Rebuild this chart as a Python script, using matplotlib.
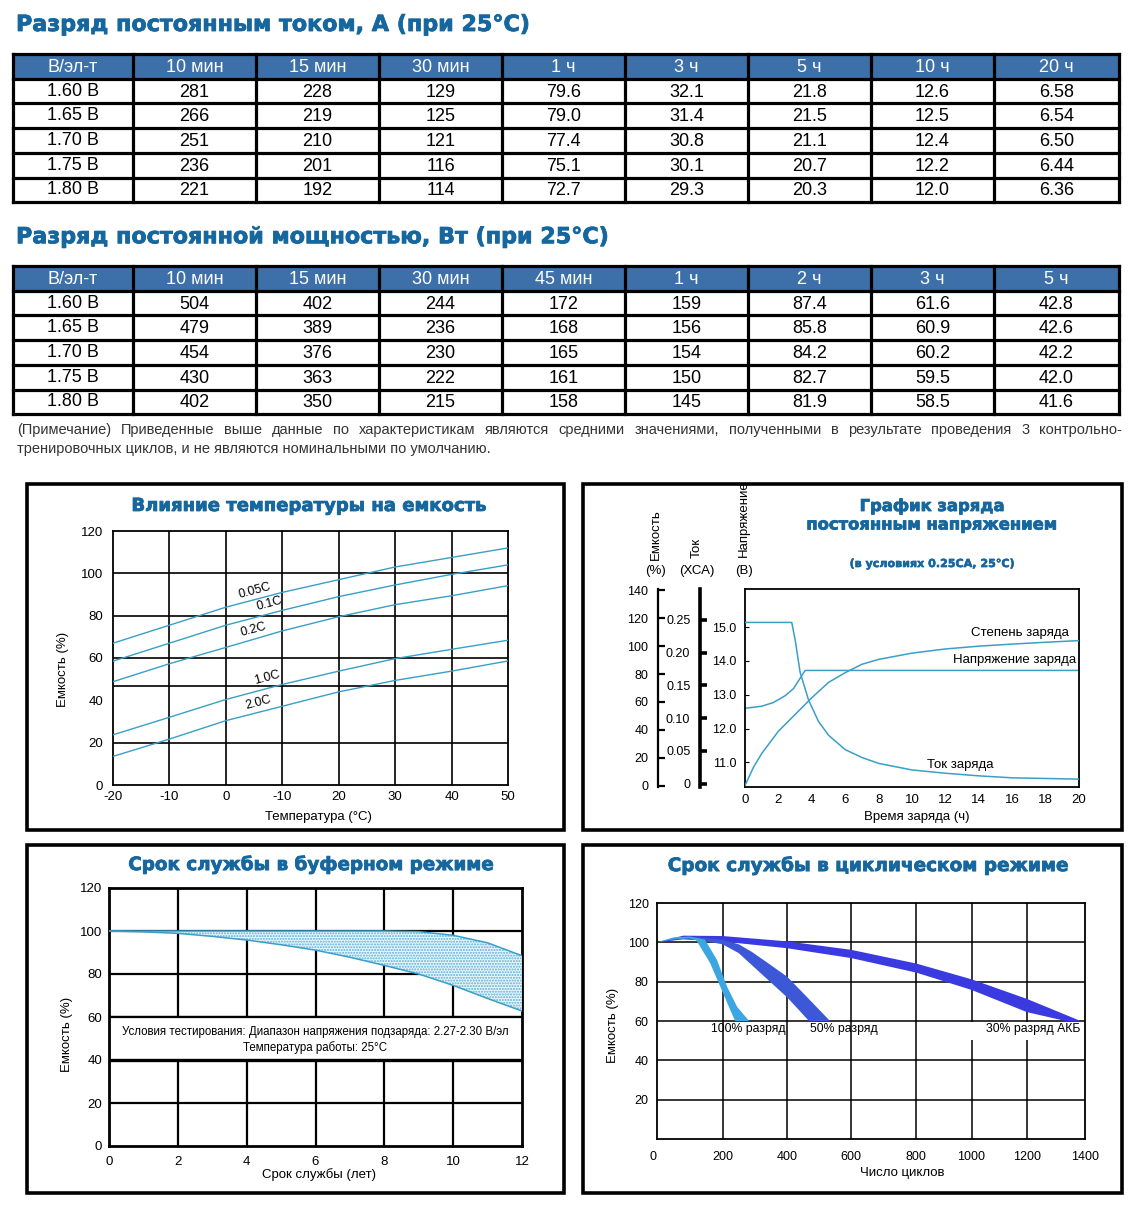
import numpy as np
import matplotlib
matplotlib.use('Agg')
import matplotlib.pyplot as plt
import matplotlib.patheffects as pe
from matplotlib.patches import Rectangle

W, H = 1130, 1213
TITLE_BLUE = '#17679f'
HEAD_FILL = '#3d6fa8'
CURVE = '#3a9fc6'
SANS = ['Liberation Sans', 'DejaVu Sans']
NARROW = ['Liberation Sans Narrow', 'Liberation Sans', 'DejaVu Sans']
HEAVY = ['DejaVu Sans']
BOLDER = [pe.withStroke(linewidth=0.6, foreground=TITLE_BLUE)]

# ---------------- tables ----------------
table1_title = 'Разряд постоянным током, А (при 25°С)'
table1_cols = ['В/эл-т', '10 мин', '15 мин', '30 мин', '1 ч', '3 ч', '5 ч', '10 ч', '20 ч']
table2_title = 'Разряд постоянной мощностью, Вт (при 25°С)'
table2_cols = ['В/эл-т', '10 мин', '15 мин', '30 мин', '45 мин', '1 ч', '2 ч', '3 ч', '5 ч']
end_volts = ['1.60 В', '1.65 В', '1.70 В', '1.75 В', '1.80 В']
current_vals = [
    ['281', '228', '129', '79.6', '32.1', '21.8', '12.6', '6.58'],
    ['266', '219', '125', '79.0', '31.4', '21.5', '12.5', '6.54'],
    ['251', '210', '121', '77.4', '30.8', '21.1', '12.4', '6.50'],
    ['236', '201', '116', '75.1', '30.1', '20.7', '12.2', '6.44'],
    ['221', '192', '114', '72.7', '29.3', '20.3', '12.0', '6.36'],
]
power_vals = [
    ['504', '402', '244', '172', '159', '87.4', '61.6', '42.8'],
    ['479', '389', '236', '168', '156', '85.8', '60.9', '42.6'],
    ['454', '376', '230', '165', '154', '84.2', '60.2', '42.2'],
    ['430', '363', '222', '161', '150', '82.7', '59.5', '42.0'],
    ['402', '350', '215', '158', '145', '81.9', '58.5', '41.6'],
]
note_line1 = ('(Примечание) Приведенные выше данные по характеристикам являются средними '
              'значениями, полученными в результате проведения 3 контрольно-')
note_line2 = 'тренировочных циклов, и не являются номинальными по умолчанию.'

# ---------------- temperature vs capacity ----------------
temp_c = [-20, -10, 0, 10, 20, 30, 40, 50]
cap_005c = [67, 75.5, 84, 91, 97, 103, 107.5, 112]
cap_01c = [58.5, 67, 75.5, 82.5, 89, 94.5, 99.5, 104]
cap_02c = [48.8, 57.3, 65, 72.8, 79.5, 85.2, 89.4, 94.2]
cap_10c = [23.7, 32, 40.4, 47.5, 53.8, 59.7, 64.1, 68.4]
cap_20c = [13.5, 21.7, 30.4, 37.2, 44, 49.4, 53.8, 58.6]
temp_xlabels = ['-20', '-10', '0', '-10', '20', '30', '40', '50']

# ---------------- constant voltage charge ----------------
volt_t = [0, 1, 1.7, 2.4, 2.9, 3.6, 20]
volt_v = [12.6, 12.66, 12.77, 12.97, 13.18, 13.72, 13.72]
curr_t = [0, 2.8, 3.0, 3.3, 3.8, 4.4, 5, 6, 7, 8, 10, 12, 14, 16, 18, 20]
curr_a = [0.246, 0.246, 0.22, 0.17, 0.128, 0.095, 0.074, 0.052, 0.040, 0.031,
          0.021, 0.016, 0.012, 0.009, 0.008, 0.007]
soc_t = [0, 0.5, 1, 2, 3, 4, 5, 6, 7, 8, 10, 12, 14, 16, 18, 20]
soc_pct = [0, 13, 23, 39, 51, 63, 74, 81, 87, 90.5, 95, 98, 100, 101.5, 102.8, 104]

# ---------------- float life ----------------
float_years = [0, 1, 2, 3, 4, 5, 6, 7, 8, 9, 10, 11, 12]
float_upper = [100, 100, 100, 100, 100, 100, 100, 100, 100, 99.7, 98, 94.5, 88.5]
float_lower = [100, 99.6, 98.9, 97.5, 95.8, 93.6, 91.1, 87.8, 84, 80, 74.7, 68.6, 62.8]

# ---------------- cycle life ----------------
cyc_ticks = [0, 200, 400, 600, 800, 1000, 1200, 1400]
cyc_frac = [0, 0.1533, 0.3042, 0.4535, 0.6060, 0.7349, 0.8646, 1.0]  # uneven grid of the original
d30_up_x = [0, 80, 200, 400, 600, 800, 1000, 1200, 1385]
d30_up_y = [100, 103.4, 103.2, 100.5, 96.2, 89.2, 81.2, 71.2, 60]
d30_lo_x = [0, 80, 200, 400, 600, 800, 1000, 1200, 1333]
d30_lo_y = [100, 101.5, 100.4, 97, 92, 84.6, 75.8, 64.5, 60]
d50_up_x = [100, 200, 250, 290, 340, 400, 460, 534]
d50_up_y = [102.8, 101.3, 99, 95.2, 89.5, 82.5, 72.5, 60]
d50_lo_x = [100, 200, 250, 290, 340, 400, 440, 468]
d50_lo_y = [102, 99, 94.5, 88.5, 81, 72, 65, 60]
d100_up_x = [0, 50, 100, 146, 183, 214, 245, 282]
d100_up_y = [100, 102.5, 103, 101.4, 91, 77.4, 67.2, 60]
d100_lo_x = [0, 50, 100, 120, 162, 193, 224, 239]
d100_lo_y = [100, 101.5, 102, 101, 89.4, 77.4, 65.5, 60]

fig = plt.figure(figsize=(W / 100, H / 100), dpi=100)
fig.patch.set_facecolor('white')

ov = fig.add_axes([0, 0, 1, 1])
ov.set_xlim(0, W)
ov.set_ylim(H, 0)
ov.axis('off')


def px_axes(l, t, r, b):
    return fig.add_axes([l / W, 1 - b / H, (r - l) / W, (b - t) / H])


def heading(x, y, s, size, ha='center'):
    ov.text(x, y, s, fontsize=size, fontweight='bold', color=TITLE_BLUE, family=HEAVY,
            ha=ha, va='center', path_effects=BOLDER)


def draw_table(title, title_y, cols, rows, vals, top):
    heading(16, title_y, title, 16, ha='left')
    xs = [13, 133, 256, 379, 502, 625, 748, 871, 994, 1119]
    ys = [top + i * 24.7 for i in range(7)]
    ov.add_patch(Rectangle((xs[0], ys[0]), xs[-1] - xs[0], ys[1] - ys[0],
                           facecolor=HEAD_FILL, edgecolor='none'))
    for x in xs:
        ov.plot([x, x], [ys[0], ys[-1]], color='black', lw=2.3, solid_capstyle='projecting')
    for y in ys:
        ov.plot([xs[0], xs[-1]], [y, y], color='black', lw=2.3, solid_capstyle='projecting')
    for j, c in enumerate(cols):
        ov.text((xs[j] + xs[j + 1]) / 2, (ys[0] + ys[1]) / 2 + 1, c, color='white',
                fontsize=13, family=SANS, ha='center', va='center')
    for i, r in enumerate(rows):
        yc = (ys[i + 1] + ys[i + 2]) / 2 + 1
        ov.text((xs[0] + xs[1]) / 2, yc - 1, r, fontsize=13, family=SANS,
                ha='center', va='center')
        for j, v in enumerate(vals[i]):
            ov.text((xs[j + 1] + xs[j + 2]) / 2, yc, v, fontsize=13, family=SANS,
                    ha='center', va='center')


draw_table(table1_title, 25, table1_cols, end_volts, current_vals, 54)
draw_table(table2_title, 237, table2_cols, end_volts, power_vals, 266)

# justified note, first line
renderer = fig.canvas.get_renderer()
words = note_line1.split(' ')
tmp = [ov.text(0, 0, w, fontsize=10.5, family=NARROW) for w in words]
widths = [t.get_window_extent(renderer).width for t in tmp]
for t in tmp:
    t.remove()
gap = (1122 - 17 - sum(widths)) / (len(words) - 1)
x = 17
for w, wd in zip(words, widths):
    ov.text(x, 430, w, fontsize=10.5, family=NARROW, color='#333333', va='center', ha='left')
    x += wd + gap
ov.text(17, 449, note_line2, fontsize=10.5, family=NARROW, color='#333333', va='center', ha='left')

# panel frames
for (l, t, r, b) in [(27, 484, 564, 830), (583, 484, 1122, 830),
                     (27, 845, 564, 1193), (583, 845, 1122, 1193)]:
    ov.add_patch(Rectangle((l, t), r - l, b - t, facecolor='none', edgecolor='black', lw=2.6))


def style_ticks(ax):
    for lab in ax.get_xticklabels() + ax.get_yticklabels():
        lab.set_family(SANS)


# ---------- panel 1 ----------
ax1 = px_axes(113, 531, 508, 785)
ax1.set_xlim(-20, 50)
ax1.set_ylim(0, 120)
for x in [-10, 0, 10, 20, 30, 40]:
    ax1.axvline(x, color='black', lw=1.2, zorder=1)
for y in [20, 47, 60, 80, 100]:
    ax1.axhline(y, color='black', lw=1.2, zorder=1)
for cap in [cap_005c, cap_01c, cap_02c, cap_10c, cap_20c]:
    ax1.plot(temp_c, cap, color=CURVE, lw=1.0, zorder=3)
for lab, lx, ly in [('0.05C', 5.2, 91.8), ('0.1C', 7.8, 85.8), ('0.2C', 4.9, 73.2),
                    ('1.0C', 7.3, 50.6), ('2.0C', 5.8, 38.8)]:
    ax1.text(lx, ly, lab, fontsize=9, family=SANS, rotation=15, ha='center', va='center', zorder=4)
ax1.set_xticks(temp_c)
ax1.set_xticklabels(temp_xlabels)
ax1.set_yticks(range(0, 121, 20))
ax1.tick_params(length=0, labelsize=9.5)
ax1.tick_params(axis='x', pad=4)
ax1.tick_params(axis='y', pad=7)
for s in ax1.spines.values():
    s.set_linewidth(1.3)
style_ticks(ax1)
heading(308, 506, 'Влияние температуры на емкость', 13)
ov.text(63, 669, 'Емкость (%)', rotation=90, fontsize=9.5, family=SANS, ha='center', va='center')
ov.text(318, 817, 'Температура (°С)', fontsize=9.5, family=SANS, ha='center', va='center')

# ---------- panel 2 ----------
ax2 = px_axes(745, 589, 1079, 787)
ax2.set_xlim(0, 20)
ax2.set_ylim(10.27, 16.13)
ax2.plot(volt_t, volt_v, color=CURVE, lw=1.1)
ax2.set_xticks(range(0, 21, 2))
ax2.set_yticks([11, 12, 13, 14, 15])
ax2.set_yticklabels(['11.0', '12.0', '13.0', '14.0', '15.0'])
ax2.tick_params(axis='x', length=0, pad=5, labelsize=9.5)
ax2.tick_params(axis='y', direction='in', length=3, pad=6, labelsize=9)
for s in ax2.spines.values():
    s.set_linewidth(1.3)
style_ticks(ax2)

axc = ax2.twinx()
axc.set_ylim(-1, 141)
axc.plot(soc_t, soc_pct, color=CURVE, lw=1.1)
axi = ax2.twinx()
axi.set_ylim(-0.005, 0.297)
axi.plot(curr_t, curr_a, color=CURVE, lw=1.1)
for tw, pos, lw, ticks, labels in [
        (axc, (658 - 745) / 334, 1.6, list(range(0, 141, 20)), [str(v) for v in range(0, 141, 20)]),
        (axi, (700 - 745) / 334, 2.6, [0, 0.05, 0.10, 0.15, 0.20, 0.25],
         ['0', '0.05', '0.10', '0.15', '0.20', '0.25'])]:
    for k in ['top', 'right', 'bottom']:
        tw.spines[k].set_visible(False)
    tw.spines['left'].set_visible(True)
    tw.spines['left'].set_position(('axes', pos))
    tw.spines['left'].set_linewidth(lw)
    tw.yaxis.set_ticks_position('left')
    tw.set_yticks(ticks)
    tw.set_yticklabels(labels)
    tw.tick_params(axis='y', direction='in', length=5, width=lw, pad=7, labelsize=9)
    style_ticks(tw)
ax2.set_xlim(0, 20)
ax2.text(16.47, 14.82, 'Степень заряда', fontsize=9.5, family=SANS, ha='center', va='center')
ax2.text(16.15, 14.02, 'Напряжение заряда', fontsize=9.5, family=SANS, ha='center', va='center')
ax2.text(12.9, 10.91, 'Ток заряда', fontsize=9.5, family=SANS, ha='center', va='center')

heading(932, 506, 'График заряда', 11.8)
heading(932, 525, 'постоянным напряжением', 11.8)
ov.text(932, 564, '(в условиях 0.25СА, 25°С)', fontsize=8, fontweight='bold', color=TITLE_BLUE,
        family=HEAVY, ha='center', va='center',
        path_effects=[pe.withStroke(linewidth=0.4, foreground=TITLE_BLUE)])
for xc, vert, unit, vy in [(656, 'Емкость', '(%)', 535), (697, 'Ток', '(ХСА)', 548),
                           (744, 'Напряжение', '(В)', 519)]:
    ov.text(xc, vy, vert, rotation=90, fontsize=9.5, family=SANS, ha='center', va='center')
    ov.text(xc, 571, unit, fontsize=9.5, family=SANS, ha='center', va='center')
ov.text(917, 817, 'Время заряда (ч)', fontsize=9.5, family=SANS, ha='center', va='center')

# ---------- panel 3 ----------
ax3 = px_axes(109, 888, 522, 1146)
ax3.set_xlim(0, 12)
ax3.set_ylim(0, 120)
for x in range(2, 12, 2):
    ax3.axvline(x, color='black', lw=1.6, zorder=1)
for y in [20, 60, 80, 100]:
    ax3.axhline(y, color='black', lw=1.6, zorder=1)
ax3.add_patch(Rectangle((0, 40.6), 12, 19, facecolor='white', edgecolor='none', zorder=2))
ax3.axhline(40, color='black', lw=2.4, zorder=3)
ax3.axhline(60, color='black', lw=1.6, zorder=3)
ax3.fill_between(float_years, float_lower, float_upper, facecolor='#eaf6fb',
                 edgecolor='#5aaed6', hatch='......', lw=0, zorder=3)
ax3.plot(float_years, float_upper, color=CURVE, lw=1.1, zorder=4)
ax3.plot(float_years, float_lower, color=CURVE, lw=1.1, zorder=4)
ax3.text(6, 52.8, 'Условия тестирования: Диапазон напряжения подзаряда: 2.27-2.30 В/эл',
         fontsize=8.3, family=NARROW, ha='center', va='center', zorder=5)
ax3.text(6, 45.8, 'Температура работы: 25°С', fontsize=8.3, family=NARROW,
         ha='center', va='center', zorder=5)
ax3.set_xticks(range(0, 13, 2))
ax3.set_yticks(range(0, 121, 20))
ax3.tick_params(length=0, pad=7, labelsize=9.5)
ax3.tick_params(axis='y', pad=5)
for s in ax3.spines.values():
    s.set_linewidth(2)
style_ticks(ax3)
heading(311, 865, 'Срок службы в буферном режиме', 13.2)
ov.text(67, 1034, 'Емкость (%)', rotation=90, fontsize=9.5, family=SANS, ha='center', va='center')
ov.text(319, 1175, 'Срок службы (лет)', fontsize=9.5, family=SANS, ha='center', va='center')

# ---------- panel 4 ----------
ax4 = px_axes(657, 903, 1085, 1139)
ax4.set_xscale('function', functions=(lambda v: np.interp(v, cyc_ticks, cyc_frac),
                                      lambda f: np.interp(f, cyc_frac, cyc_ticks)))
ax4.set_xlim(0, 1400)
ax4.set_ylim(0, 120)
for x in cyc_ticks[1:-1]:
    ax4.axvline(x, color='black', lw=1.1, zorder=1)
for y in [20, 40, 60, 80, 100]:
    ax4.axhline(y, color='black', lw=1.1, zorder=1)
ax4.add_patch(Rectangle((995, 50.5), 405, 9.2, facecolor='white', edgecolor='none', zorder=2))
for ux, uy, lx, ly, col in [(d30_up_x, d30_up_y, d30_lo_x, d30_lo_y, '#3a3ae0'),
                            (d50_up_x, d50_up_y, d50_lo_x, d50_lo_y, '#3d58d6'),
                            (d100_up_x, d100_up_y, d100_lo_x, d100_lo_y, '#3ba6e2')]:
    ax4.fill(list(ux) + list(lx)[::-1], list(uy) + list(ly)[::-1], color=col, lw=0, zorder=3)
for lab, lx in [('100% разряд', 164), ('50% разряд', 472), ('30% разряд АКБ', 1052)]:
    ax4.text(lx, 55.8, lab, fontsize=8.8, family=SANS, ha='left', va='center', zorder=4)
ax4.set_xticks(cyc_ticks)
ax4.set_xticklabels([str(v) for v in cyc_ticks])
ax4.get_xticklabels()[0].set_ha('right')
ax4.set_yticks(range(20, 121, 20))
ax4.tick_params(length=0, pad=9, labelsize=9)
ax4.tick_params(axis='y', pad=6)
for s in ax4.spines.values():
    s.set_linewidth(1.3)
style_ticks(ax4)
heading(868, 866, 'Срок службы в циклическом режиме', 13.3)
ov.text(613, 1025, 'Емкость (%)', rotation=90, fontsize=9.5, family=SANS, ha='center', va='center')
ov.text(902, 1173, 'Число циклов', fontsize=9.5, family=SANS, ha='center', va='center')

fig.savefig('out.png', dpi=100)
